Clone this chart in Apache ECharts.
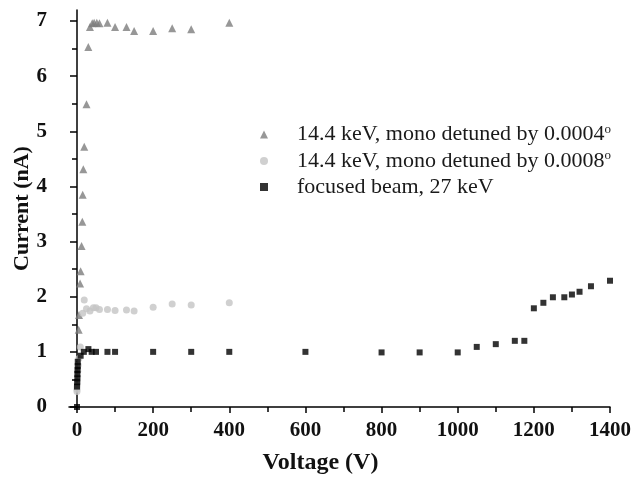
<!DOCTYPE html>
<html>
<head>
<meta charset="utf-8">
<script src="https://cdn.jsdelivr.net/npm/echarts@6/dist/echarts.min.js"></script>
<style>html,body{margin:0;padding:0;background:#fff}#c{width:634px;height:482px}</style>
</head>
<body>
<div id="c"></div>
<script>
// ---- data ----
const seriesNames = ['14.4 keV, mono detuned by 0.0004', '14.4 keV, mono detuned by 0.0008', 'focused beam, 27 keV'];
const triVolt = [4.4,5.3,8,9.6,12,14,15,16.6,19,25,29.7,34,40,45,52,59,80,100,130,150,200,250,300,400];
const triCurr = [1.40,1.67,2.24,2.46,2.92,3.36,3.85,4.31,4.72,5.49,6.53,6.89,6.96,6.97,6.97,6.96,6.97,6.89,6.89,6.82,6.82,6.87,6.85,6.97];
const cirVolt = [0,0,0.5,1,1.5,2,3,5,8.7,15,19,25,34,43,50,59,80,100,130,150,200,250,300,400];
const cirCurr = [0.28,0.32,0.37,0.43,0.55,0.65,0.76,0.88,1.09,1.70,1.94,1.78,1.74,1.80,1.80,1.77,1.77,1.75,1.76,1.74,1.81,1.87,1.85,1.89];
const sqVolt = [0,0,0.5,1,1,1.5,2,2,9.6,18,30,38.5,50,80,100,200,300,400,600,800,900,1000,1050,1100,1150,1175,1200,1225,1250,1280,1300,1320,1350,1400];
const sqCurr = [0,0.37,0.45,0.52,0.60,0.67,0.74,0.82,0.93,1.00,1.05,1.00,1.00,1.00,1.00,1.00,1.00,1.00,1.00,0.99,0.99,0.99,1.09,1.14,1.20,1.20,1.79,1.89,1.99,1.99,2.04,2.09,2.19,2.29];
const xMajorTicks = [0,200,400,600,800,1000,1200,1400];
const xMinorTicks = [100,300,500,700,900,1100,1300];
const yMajorTicks = [0,1,2,3,4,5,6,7];
const yMinorTicks = [0.5,1.5,2.5,3.5,4.5,5.5,6.5];

const zip = (a, b) => a.map((v, i) => [v, b[i]]);
const FONT = 'Liberation Serif';

const chart = echarts.init(document.getElementById('c'), null, {renderer: 'canvas'});
const axisLine = {show: true, lineStyle: {color: '#000', width: 1.5}};
chart.setOption({
  animation: false,
  backgroundColor: '#fff',
  grid: {left: 69, right: 24, top: 10, bottom: 75, containLabel: false, outerBoundsMode: 'none'},
  xAxis: [
    {
      type: 'value', min: -21, max: 1400,
      name: 'Voltage (V)', nameLocation: 'middle', nameGap: 44, nameMoveOverlap: false,
      nameTextStyle: {fontFamily: FONT, fontWeight: 'bold', fontSize: 24, color: '#111', padding: [0, 38, 0, 0]},
      axisLine: axisLine,
      axisTick: {show: true, inside: false, length: 6, customValues: xMajorTicks, lineStyle: {color: '#000', width: 1.5}},
      axisLabel: {show: true, customValues: xMajorTicks, margin: 13, fontFamily: FONT, fontWeight: 'bold', fontSize: 21, color: '#111', formatter: v => String(v)},
      splitLine: {show: false}
    },
    {
      type: 'value', min: -21, max: 1400, position: 'bottom',
      axisLine: {show: false},
      axisTick: {show: true, inside: false, length: 5, customValues: xMinorTicks, lineStyle: {color: '#000', width: 1.5}},
      axisLabel: {show: false},
      splitLine: {show: false}
    }
  ],
  yAxis: [
    {
      type: 'value', min: 0, max: 7.2,
      name: 'Current (nA)', nameLocation: 'middle', nameGap: 36, nameMoveOverlap: false,
      nameTextStyle: {fontFamily: FONT, fontWeight: 'bold', fontSize: 22, color: '#111'},
      axisLine: axisLine,
      axisTick: {show: true, inside: false, length: 7, customValues: yMajorTicks, lineStyle: {color: '#000', width: 1.5}},
      axisLabel: {show: true, customValues: yMajorTicks, margin: 22, fontFamily: FONT, fontWeight: 'bold', fontSize: 21, color: '#111', formatter: v => String(v)},
      splitLine: {show: false}
    },
    {
      type: 'value', min: 0, max: 7.2, position: 'left',
      axisLine: {show: false},
      axisTick: {show: true, inside: false, length: 5, customValues: yMinorTicks, lineStyle: {color: '#000', width: 1.5}},
      axisLabel: {show: false},
      splitLine: {show: false}
    }
  ],
  legend: {
    orient: 'vertical', left: 255, top: 118, itemGap: 4,
    itemWidth: 8, itemHeight: 8,
    textStyle: {fontFamily: FONT, fontSize: 22, color: '#1a1a1a', padding: [0, 0, 0, 24],
      rich: {s: {fontFamily: FONT, fontSize: 13, verticalAlign: 'top', padding: [0, 0, 10, 0], color: '#1a1a1a'}}},
    formatter: function (name) {
      return name.indexOf('0.000') >= 0 ? name + '{s|o}' : name;
    },
    data: [
      {name: seriesNames[0], icon: 'triangle', itemStyle: {color: '#7d7d7d'}},
      {name: seriesNames[1], icon: 'circle', itemStyle: {color: '#c4c4c4'}},
      {name: seriesNames[2], icon: 'rect', itemStyle: {color: '#000'}}
    ]
  },
  series: [
    {name: seriesNames[0], type: 'scatter', symbol: 'triangle', symbolSize: 8, itemStyle: {color: '#7d7d7d'}, data: zip(triVolt, triCurr), z: 2},
    {name: seriesNames[1], type: 'scatter', symbol: 'circle', symbolSize: 7, itemStyle: {color: '#c4c4c4'}, data: zip(cirVolt, cirCurr), z: 3},
    {name: seriesNames[2], type: 'scatter', symbol: 'rect', symbolSize: 6, itemStyle: {color: '#000'}, data: zip(sqVolt, sqCurr), z: 4}
  ]
});
</script>
</body>
</html>
